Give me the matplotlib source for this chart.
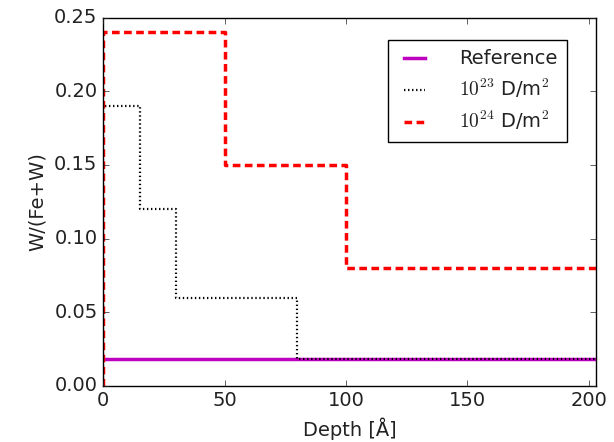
import matplotlib
matplotlib.use('Agg')
import matplotlib.pyplot as plt

plt.style.use('classic')
plt.rcParams['mathtext.fontset'] = 'cm'
plt.rcParams['font.size'] = 14
plt.rcParams['text.color'] = '#222222'
plt.rcParams['xtick.color'] = '#222222'
plt.rcParams['ytick.color'] = '#222222'
plt.rcParams['axes.labelcolor'] = '#222222'

# step profiles: depth (Angstrom) where each level starts, and the level
ref_depth = [0, 203]
ref_val = [0.018, 0.018]

d23_depth = [0, 0, 15, 30, 80, 203]
d23_val = [0, 0.19, 0.12, 0.06, 0.018, 0.018]

d24_depth = [0, 0, 50, 100, 203]
d24_val = [0, 0.24, 0.15, 0.08, 0.08]

fig = plt.figure(figsize=(6.14, 4.42), dpi=100, facecolor='white')
ax = fig.add_axes([0.168, 0.127, 0.803, 0.833])

ax.plot(ref_depth, ref_val, color='m', lw=2.5, label='Reference')
ax.step(d23_depth, d23_val, where='post', color='k', lw=1.6,
        dashes=(1.0, 1.9), label=r'$10^{23}$ D/m$^2$')
ax.step(d24_depth, d24_val, where='post', color='r', lw=2.5,
        dashes=(5.5, 3.2), label=r'$10^{24}$ D/m$^2$')

ax.set_xlim(0, 203)
ax.set_ylim(0, 0.25)
ax.set_xticks([0, 50, 100, 150, 200])
ax.set_yticks([0, 0.05, 0.10, 0.15, 0.20, 0.25])
ax.set_yticklabels(['0.00', '0.05', '0.10', '0.15', '0.20', '0.25'])
ax.tick_params(labelsize=14)
ax.set_xlabel('Depth [Å]', fontsize=14)
ax.set_ylabel('W/(Fe+W)', fontsize=14)

ax.legend(loc='upper right', bbox_to_anchor=(0.941, 0.94), borderaxespad=0,
          fontsize=14, handlelength=1.7, handletextpad=1.45,
          borderpad=0.5, labelspacing=0.45)

fig.savefig('out.png', dpi=100, facecolor='white')
